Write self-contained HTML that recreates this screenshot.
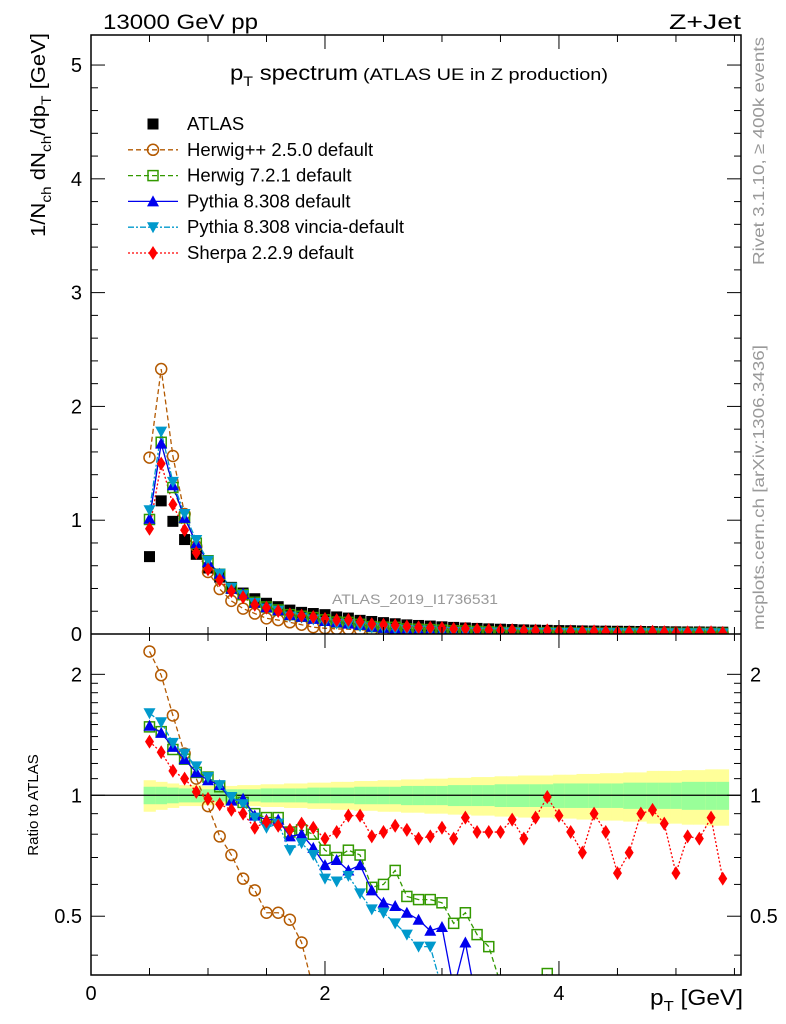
<!DOCTYPE html>
<html><head><meta charset="utf-8">
<style>
html,body{margin:0;padding:0;background:#fff;}
svg{display:block;font-family:"Liberation Sans",sans-serif;}
</style></head>
<body>
<svg id="chart" width="786" height="1024" viewBox="0 0 786 1024" xmlns="http://www.w3.org/2000/svg">
<defs>
<clipPath id="clipMain"><rect x="91" y="35" width="650" height="599"/></clipPath>
<clipPath id="clipRatio"><rect x="91" y="634" width="650" height="341"/></clipPath>
</defs>
<g id="bands" clip-path="url(#clipRatio)"></g>
<g id="marksRatio" clip-path="url(#clipRatio)"></g>
<g id="marksMain" clip-path="url(#clipMain)"></g>
<g id="axes"></g>
<text x="103" y="29" font-size="21" textLength="155" lengthAdjust="spacingAndGlyphs">13000 GeV pp</text>
<text x="669" y="29" font-size="21" textLength="72" lengthAdjust="spacingAndGlyphs">Z+Jet</text>
<text x="230" y="80" font-size="21" textLength="128" lengthAdjust="spacingAndGlyphs">p<tspan font-size="14" dy="6">T</tspan><tspan dy="-6"> spectrum</tspan></text>
<text x="363" y="80" font-size="17" textLength="245" lengthAdjust="spacingAndGlyphs">(ATLAS UE in Z production)</text>
<text x="332" y="604" font-size="14" fill="#999" textLength="166" lengthAdjust="spacingAndGlyphs">ATLAS_2019_I1736531</text>
<text transform="translate(764,265) rotate(-90)" font-size="16" fill="#999" textLength="228" lengthAdjust="spacingAndGlyphs">Rivet 3.1.10, ≥ 400k events</text>
<text transform="translate(764,630) rotate(-90)" font-size="16" fill="#999" textLength="285" lengthAdjust="spacingAndGlyphs">mcplots.cern.ch [arXiv:1306.3436]</text>
<text transform="translate(45,237) rotate(-90)" font-size="20" textLength="204" lengthAdjust="spacingAndGlyphs">1/N<tspan font-size="14" dy="6">ch</tspan><tspan dy="-6"> dN</tspan><tspan font-size="14" dy="6">ch</tspan><tspan dy="-6">/dp</tspan><tspan font-size="14" dy="6">T</tspan><tspan dy="-6"> [GeV]</tspan></text>
<text transform="translate(38,805) rotate(-90)" font-size="15" text-anchor="middle">Ratio to ATLAS</text>
<text x="650" y="1005" font-size="22" textLength="93" lengthAdjust="spacingAndGlyphs">p<tspan font-size="15" dy="6">T</tspan><tspan dy="-6"> [GeV]</tspan></text>
<g id="legend"></g>
</svg>
<script>
const xBins=[0.5,0.6,0.7,0.8,0.9,1.0,1.1,1.2,1.3,1.4,1.5,1.6,1.7,1.8,1.9,2.0,2.1,2.2,2.3,2.4,2.5,2.6,2.7,2.8,2.9,3.0,3.1,3.2,3.3,3.4,3.5,3.6,3.7,3.8,3.9,4.0,4.1,4.2,4.3,4.4,4.5,4.6,4.7,4.8,4.9,5.0,5.1,5.2,5.3,5.4];
const atlasVals=[0.68,1.17,0.99,0.83,0.70,0.58,0.50,0.41,0.36,0.31,0.27,0.24,0.21,0.19,0.18,0.17,0.15,0.14,0.12,0.11,0.10,0.09,0.08,0.075,0.07,0.063,0.058,0.053,0.049,0.045,0.042,0.039,0.036,0.034,0.032,0.030,0.029,0.027,0.026,0.025,0.024,0.023,0.022,0.021,0.020,0.019,0.018,0.018,0.017,0.016];
const herwigppRatio=[2.28,1.99,1.58,1.27,1.10,0.94,0.79,0.71,0.62,0.58,0.51,0.51,0.49,0.43,0.33,0.3,0.3,0.3,0.3,0.3,0.3,0.3,0.3,0.3,0.3,0.3,0.3,0.3,0.3,0.3,0.3,0.3,0.3,0.3,0.3,0.3,0.3,0.3,0.3,0.3,0.3,0.3,0.3,0.3,0.3,0.3,0.3,0.3,0.3,0.3];
const herwig7Ratio=[1.48,1.44,1.30,1.23,1.14,1.11,1.05,0.98,0.96,0.90,0.88,0.88,0.81,0.82,0.80,0.73,0.70,0.73,0.71,0.59,0.60,0.65,0.56,0.55,0.55,0.54,0.48,0.51,0.45,0.42,0.34,0.3,0.3,0.3,0.36,0.3,0.3,0.3,0.3,0.3,0.3,0.3,0.3,0.3,0.3,0.3,0.3,0.3,0.3,0.3];
const pythiaRatio=[1.49,1.43,1.32,1.23,1.14,1.09,1.06,0.97,0.98,0.89,0.87,0.87,0.79,0.80,0.74,0.67,0.69,0.65,0.67,0.58,0.54,0.53,0.51,0.49,0.46,0.47,0.33,0.43,0.3,0.3,0.3,0.3,0.3,0.3,0.3,0.3,0.3,0.3,0.3,0.3,0.3,0.3,0.3,0.3,0.3,0.3,0.3,0.3,0.3,0.3];
const vinciaRatio=[1.60,1.52,1.35,1.27,1.18,1.11,1.06,0.99,0.95,0.88,0.83,0.85,0.73,0.76,0.71,0.62,0.61,0.63,0.57,0.52,0.51,0.48,0.45,0.42,0.42,0.33,0.3,0.3,0.3,0.3,0.3,0.3,0.3,0.3,0.3,0.3,0.3,0.3,0.3,0.3,0.3,0.3,0.3,0.3,0.3,0.3,0.3,0.3,0.3,0.3];
const sherpaRatio=[1.36,1.28,1.15,1.10,1.02,0.98,0.95,0.92,0.90,0.83,0.86,0.84,0.82,0.85,0.83,0.78,0.81,0.89,0.89,0.79,0.81,0.84,0.82,0.78,0.79,0.83,0.78,0.88,0.81,0.81,0.81,0.87,0.78,0.88,0.99,0.89,0.81,0.72,0.90,0.81,0.64,0.72,0.90,0.92,0.85,0.64,0.79,0.78,0.88,0.62];
const greenErr=[0.05,0.05,0.045,0.04,0.04,0.035,0.035,0.035,0.035,0.035,0.04,0.04,0.04,0.04,0.045,0.045,0.045,0.045,0.05,0.05,0.05,0.05,0.055,0.055,0.055,0.055,0.06,0.06,0.06,0.06,0.065,0.065,0.065,0.065,0.065,0.07,0.07,0.07,0.07,0.07,0.07,0.075,0.075,0.075,0.075,0.075,0.08,0.08,0.08,0.08];
const yellowErr=[0.09,0.08,0.07,0.06,0.06,0.055,0.055,0.055,0.06,0.06,0.065,0.065,0.07,0.07,0.075,0.075,0.08,0.08,0.085,0.085,0.09,0.09,0.095,0.095,0.1,0.1,0.105,0.105,0.11,0.11,0.115,0.115,0.12,0.12,0.12,0.125,0.125,0.13,0.13,0.135,0.135,0.14,0.14,0.15,0.15,0.15,0.155,0.155,0.16,0.16];
const xTicks=[0,2,4];
const yTicksMain=[0,1,2,3,4,5];
const yTicksRatio=[0.5,1,2];

const NS="http://www.w3.org/2000/svg";
const X0=91,X1=741,xMax=5.556;
const MT=35,MB=634,RB=975,yMainMax=5.264;
const rTop=2.52,rBot=0.357;
function sx(v){return X0+(X1-X0)*v/xMax;}
function syMain(v){return MB-(MB-MT)*v/yMainMax;}
function syRatio(r){return MB+(RB-MB)*(Math.log(rTop)-Math.log(r))/(Math.log(rTop)-Math.log(rBot));}
function mk(tag,attrs,parent){const e=document.createElementNS(NS,tag);for(const k in attrs)e.setAttribute(k,attrs[k]);parent.appendChild(e);return e;}

const bands=document.getElementById('bands');
const half=0.05;
xBins.forEach((x,i)=>{
  const ry=mk('rect',{x:sx(x-half),y:syRatio(1+yellowErr[i]),width:sx(x+half)-sx(x-half)+0.5,height:syRatio(1-yellowErr[i])-syRatio(1+yellowErr[i]),fill:'#ffff99'},bands);
  
  
  const rg=mk('rect',{x:sx(x-half),y:syRatio(1+greenErr[i]),width:sx(x+half)-sx(x-half)+0.5,height:syRatio(1-greenErr[i])-syRatio(1+greenErr[i]),fill:'#99ff99'},bands);
  
  
});
const ln1=mk('line',{x1:X0,x2:X1,y1:syRatio(1),y2:syRatio(1),stroke:'#000','stroke-width':1.2},bands);



function marker(g,type,color,cx,cy,name){
  let e;
  if(type==='square') e=mk('rect',{x:cx-5.5,y:cy-5.5,width:11,height:11,fill:color},g);
  else if(type==='circle') e=mk('circle',{cx:cx,cy:cy,r:5.5,fill:'none',stroke:color,'stroke-width':1.5},g);
  else if(type==='osquare') e=mk('rect',{x:cx-5,y:cy-5,width:10,height:10,fill:'none',stroke:color,'stroke-width':1.5},g);
  else if(type==='tri') e=mk('path',{d:`M${cx},${cy-6}L${cx+6},${cy+5}L${cx-6},${cy+5}Z`,fill:color},g);
  else if(type==='itri') e=mk('path',{d:`M${cx},${cy+6}L${cx+6},${cy-5}L${cx-6},${cy-5}Z`,fill:color},g);
  else if(type==='diamond') e=mk('path',{d:`M${cx},${cy-7}L${cx+4.5},${cy}L${cx},${cy+7}L${cx-4.5},${cy}Z`,fill:color},g);
  
  
}
const series=[
  {name:'herwigpp',ratio:herwigppRatio,color:'#b35900',m:'circle',dash:'5,3'},
  {name:'herwig7',ratio:herwig7Ratio,color:'#339900',m:'osquare',dash:'5,3'},
  {name:'pythia',ratio:pythiaRatio,color:'#0000ee',m:'tri',dash:''},
  {name:'vincia',ratio:vinciaRatio,color:'#0099cc',m:'itri',dash:'6,2,2,2'},
  {name:'sherpa',ratio:sherpaRatio,color:'#ff0000',m:'diamond',dash:'2,2'}
];
const gR=document.getElementById('marksRatio'),gM=document.getElementById('marksMain');
series.forEach(s=>{
  const ptsR=xBins.map((x,i)=>[sx(x),syRatio(s.ratio[i])]);
  const ptsM=xBins.map((x,i)=>[sx(x),syMain(atlasVals[i]*s.ratio[i])]);
  const pr=mk('polyline',{points:ptsR.map(p=>p.join(',')).join(' '),fill:'none',stroke:s.color,'stroke-width':1.3,'stroke-dasharray':s.dash},gR);
  
  
  const pm=mk('polyline',{points:ptsM.map(p=>p.join(',')).join(' '),fill:'none',stroke:s.color,'stroke-width':1.3,'stroke-dasharray':s.dash},gM);
  
  
  ptsR.forEach(p=>marker(gR,s.m,s.color,p[0],p[1],s.name+'-ratio-point'));
});
xBins.forEach((x,i)=>marker(gM,'square','#000',sx(x),syMain(atlasVals[i]),'atlas-point'));
series.forEach(s=>{
  xBins.forEach((x,i)=>marker(gM,s.m,s.color,sx(x),syMain(atlasVals[i]*s.ratio[i]),s.name+'-main-point'));
});

const ax=document.getElementById('axes');
function line(x1,y1,x2,y2,w,name){const l=mk('line',{x1,y1,x2,y2,stroke:'#000','stroke-width':w||1},ax);}
function txt(x,y,s,anchor,size,name){const t=mk('text',{x,y,'font-size':size||20,'text-anchor':anchor||'middle'},ax);t.textContent=s;}
const fr=mk('rect',{x:X0,y:MT,width:X1-X0,height:RB-MT,fill:'none',stroke:'#000','stroke-width':1.5},ax);


line(X0,MB,X1,MB,1.5,'panel-divider');
for(let v=0;v<=5.5;v+=0.5){
  const major=Math.abs(v-Math.round(v/2)*2)<1e-6;
  const L=major?14:7;
  [MT,MB].forEach(y=>{line(sx(v),y,sx(v),y+L,1,'x-tick');});
  line(sx(v),MB,sx(v),MB-L,1,'x-tick');
  line(sx(v),RB,sx(v),RB-L,1,'x-tick');
}
xTicks.forEach(v=>txt(sx(v),1000,String(v),'middle',20,'x-tick-label'));
for(let v=0;v<=5.2;v+=0.2){
  const major=Math.abs(v-Math.round(v))<1e-6;const L=major?14:7;
  line(X0,syMain(v),X0+L,syMain(v),1,'y-tick');
  line(X1,syMain(v),X1-L,syMain(v),1,'y-tick');
}
yTicksMain.forEach(v=>txt(82,syMain(v)+7,String(v),'end',20,'y-tick-label'));
[0.4,0.5,0.6,0.7,0.8,0.9,1,1.1,1.2,1.3,1.4,1.5,1.6,1.7,1.8,1.9,2].forEach(v=>{
  const major=yTicksRatio.indexOf(v)>=0;const L=major?14:7;
  line(X0,syRatio(v),X0+L,syRatio(v),1,'ratio-tick');
  line(X1,syRatio(v),X1-L,syRatio(v),1,'ratio-tick');
});
yTicksRatio.forEach(v=>{txt(82,syRatio(v)+7,String(v),'end',20,'ratio-tick-label');txt(750,syRatio(v)+7,String(v),'start',20,'ratio-tick-label-right');});

const lg=document.getElementById('legend');
const legendItems=[['square','#000','','ATLAS'],['circle','#b35900','5,3','Herwig++ 2.5.0 default'],['osquare','#339900','5,3','Herwig 7.2.1 default'],['tri','#0000ee','','Pythia 8.308 default'],['itri','#0099cc','6,2,2,2','Pythia 8.308 vincia-default'],['diamond','#ff0000','2,2','Sherpa 2.2.9 default']];
legendItems.forEach((it,i)=>{
  const y=124+i*25.8;
  if(i>0){const l=mk('line',{x1:128,x2:178,y1:y,y2:y,stroke:it[1],'stroke-width':1.3,'stroke-dasharray':it[2]},lg);}
  marker(lg,it[0],it[1],153,y,'legend-marker');
  const t=mk('text',{x:187,y:y+6,'font-size':18.5},lg);t.textContent=it[3];
  
  
});
</script>
</body></html>
